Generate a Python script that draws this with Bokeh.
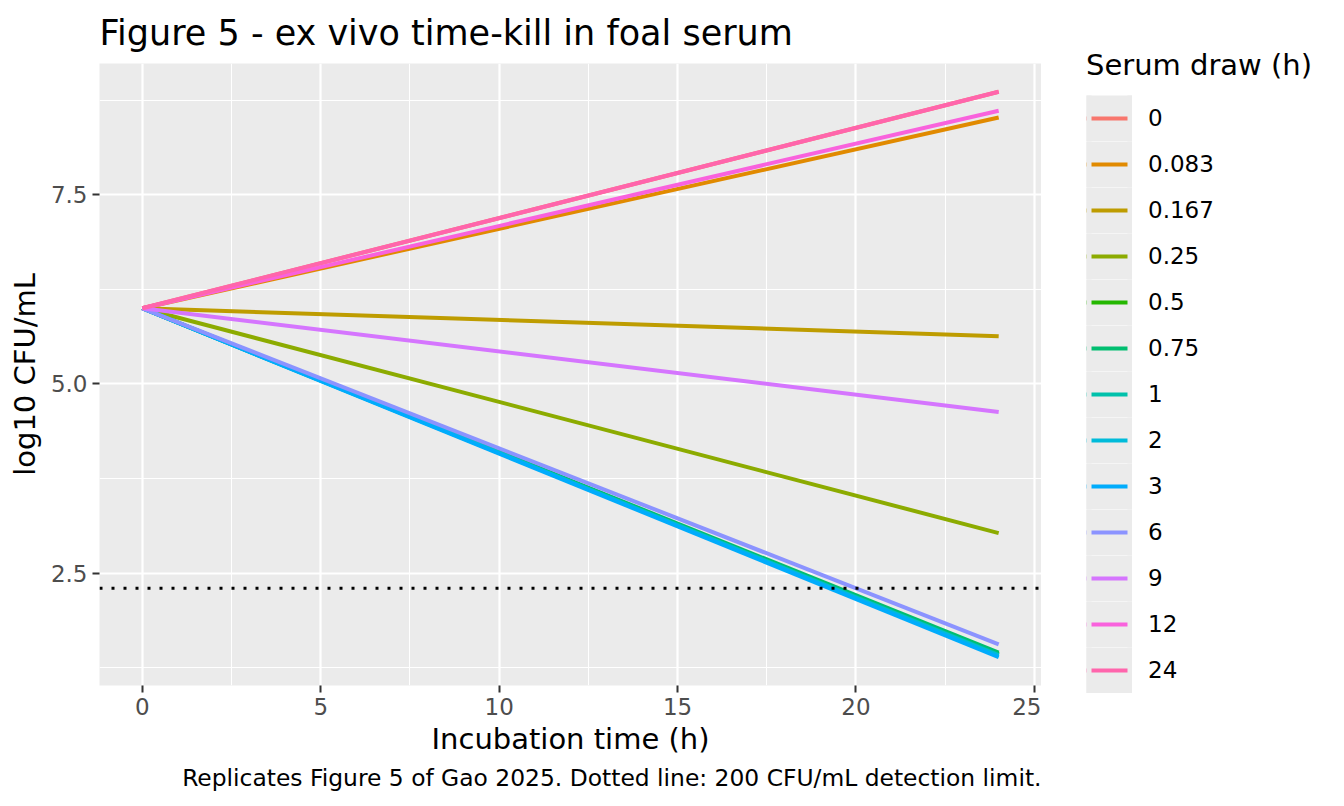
from bokeh.plotting import figure
from bokeh.layouts import row
from bokeh.models import (FixedTicker, PrintfTickFormatter, Legend, LegendItem,
                          Title, Span, Range1d)
from bokeh.embed import file_html
from bokeh.resources import INLINE

# ---- data ----
incubation_h = [0, 24]
serum_draw = ["0", "0.083", "0.167", "0.25", "0.5", "0.75", "1", "2", "3", "6", "9", "12", "24"]
start_log10 = [6.0, 6.0, 6.0, 6.0, 6.0, 6.0, 6.0, 6.0, 6.0, 6.0, 6.0, 6.0, 6.0]
end_log10 = [8.86, 8.52, 5.63, 3.03, 1.43, 1.45, 1.42, 1.41, 1.39, 1.56, 4.63, 8.61, 8.86]
colors = ["#F8766D", "#E18A00", "#BE9C00", "#8CAB00", "#24B700", "#00BE70", "#00C1AB",
          "#00BBDA", "#00ACFC", "#8B93FF", "#D575FE", "#F962DD", "#FF65AC"]
detection_limit = 2.301
x_major = [0, 5, 10, 15, 20, 25]
x_minor = [2.5, 7.5, 12.5, 17.5, 22.5]
y_major = [2.5, 5.0, 7.5]
y_minor = [1.25, 3.75, 6.25, 8.75]

FONT = "DejaVu Sans"
PANEL = "#EBEBEB"
W, H = 1344, 806
MAIN_W = 1041
LEG_W = W - MAIN_W

xlo, xhi = min(incubation_h), max(incubation_h)
ylo = min(start_log10 + end_log10 + [detection_limit])
yhi = max(start_log10 + end_log10 + [detection_limit])
xpad = (xhi - xlo) * 0.05
ypad = (yhi - ylo) * 0.05

p = figure(width=MAIN_W, height=H, output_backend="svg", toolbar_location=None,
           x_range=Range1d(xlo - xpad, xhi + xpad), y_range=Range1d(ylo - ypad, yhi + ypad),
           min_border_left=99, min_border_right=0,
           min_border_top=62, min_border_bottom=121)
p.background_fill_color = PANEL
p.border_fill_color = "white"
p.outline_line_color = None
p.frame_align = False

p.title.text = "Figure 5 - ex vivo time-kill in foal serum"
p.title.text_font = FONT
p.title.text_font_size = "35px"
p.title.text_font_style = "normal"
p.title.text_color = "black"
p.title.align = "left"
p.title.standoff = 21

# axes
for ax in (p.xaxis[0], p.yaxis[0]):
    ax.axis_line_color = None
    ax.major_tick_line_color = "#333333"
    ax.major_tick_line_width = 2
    ax.major_tick_out = 7
    ax.major_tick_in = 0
    ax.minor_tick_line_color = None
    ax.major_label_text_font = FONT
    ax.major_label_text_font_size = "23px"
    ax.major_label_text_color = "#4D4D4D"
    ax.axis_label_text_font = FONT
    ax.axis_label_text_font_size = "29px"
    ax.axis_label_text_font_style = "normal"
    ax.axis_label_text_color = "black"
    ax.major_label_standoff = 5

p.xaxis.ticker = FixedTicker(ticks=x_major, minor_ticks=x_minor)
p.yaxis.ticker = FixedTicker(ticks=y_major, minor_ticks=y_minor)
p.yaxis.formatter = PrintfTickFormatter(format="%.1f")
p.xaxis.axis_label = "Incubation time (h)"
p.yaxis.axis_label = "log10 CFU/mL"
p.xaxis.axis_label_standoff = 4
p.yaxis.axis_label_standoff = 6

for g in (p.xgrid[0], p.ygrid[0]):
    g.grid_line_color = "white"
    g.grid_line_width = 2.2
    g.minor_grid_line_color = "white"
    g.minor_grid_line_width = 1.1
p.xgrid.ticker = p.xaxis[0].ticker
p.ygrid.ticker = p.yaxis[0].ticker

# detection limit
p.add_layout(Span(location=detection_limit, dimension="width", line_color="black",
                  line_width=3, line_dash="3 9"))

# series
for lbl, col, y0, y1 in zip(serum_draw, colors, start_log10, end_log10):
    p.line(x=incubation_h, y=[y0, y1], line_color=col, line_width=4)

caption = Title(text="Replicates Figure 5 of Gao 2025. Dotted line: 200 CFU/mL detection limit.",
                align="right", text_font=FONT, text_font_size="23.4px", text_font_style="normal",
                text_color="black", standoff=7)
p.add_layout(caption, "below")

# ---- legend panel (ggplot-style keys on grey) ----
nan = float("nan")
lg = figure(frame_width=LEG_W, frame_height=H, output_backend="svg", toolbar_location=None,
            title=None, x_range=Range1d(0, 1), y_range=Range1d(0, 1),
            x_axis_location=None, y_axis_location=None, min_border=0)
lg.outline_line_color = None
lg.background_fill_color = "white"
lg.border_fill_color = "white"
lg.grid.visible = False
lg.frame_align = False

key_bg = lg.line(x=[nan], y=[nan], line_color=PANEL, line_width=46)
key_edge = lg.line(x=[nan], y=[nan], line_color=PANEL, line_width=46, line_dash="5 36 5")
items = []
for lbl, col in zip(serum_draw, colors):
    key = lg.line(x=[nan], y=[nan], line_color=col, line_width=4)
    items.append(LegendItem(label=lbl, renderers=[key_bg, key, key_edge]))

legend = Legend(items=items, location=(45, 113), orientation="vertical",
                glyph_width=46, glyph_height=46, label_height=46, spacing=0,
                label_standoff=16, padding=0, margin=0,
                border_line_color=None, background_fill_alpha=0,
                label_text_font=FONT, label_text_font_size="23px", label_text_color="black",
                title="Serum draw (h)", title_text_font=FONT, title_text_font_size="29px",
                title_text_font_style="normal", title_text_color="black", title_standoff=13,
                click_policy="none")
lg.add_layout(legend)

layout = row(p, lg, spacing=0)
open("out.html", "w").write(file_html(layout, INLINE))
